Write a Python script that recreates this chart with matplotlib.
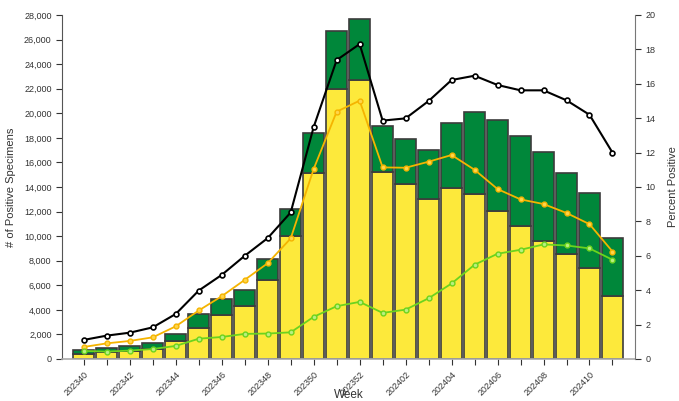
import matplotlib.pyplot as plt
import numpy as np

plt.rcParams['font.family'] = ['Liberation Sans', 'DejaVu Sans']

# data
weeks = ["202340", "202341", "202342", "202343", "202344", "202345", "202346",
         "202347", "202348", "202349", "202350", "202351", "202352",
         "202401", "202402", "202403", "202404", "202405", "202406",
         "202407", "202408", "202409", "202410", "202411"]
flu_a = [430, 600, 680, 810, 1460, 2540, 3600, 4300, 6460, 10030, 15100, 22000,
         22700, 15250, 14250, 13030, 13950, 13430, 12050, 10820, 9630, 8520,
         7380, 5100]
total_pos = [730, 920, 1050, 1270, 2030, 3650, 4860, 5650, 8160, 12200, 18400,
             26700, 27700, 18950, 17920, 17050, 19170, 20070, 19470, 18160,
             16830, 15170, 13520, 9850]
pct_total = [1.11, 1.36, 1.53, 1.84, 2.62, 3.98, 4.89, 6.0, 7.03, 8.52, 13.49,
             17.38, 18.31, 13.86, 13.99, 15.0, 16.22, 16.47, 15.93, 15.62,
             15.62, 15.04, 14.2, 12.0]
pct_a = [0.70, 0.91, 1.05, 1.26, 1.90, 2.82, 3.65, 4.60, 5.57, 7.01, 11.05,
         14.38, 15.02, 11.14, 11.12, 11.47, 11.86, 11.0, 9.88, 9.28, 9.01,
         8.49, 7.84, 6.25]
pct_b = [0.47, 0.43, 0.49, 0.58, 0.76, 1.18, 1.28, 1.46, 1.48, 1.55, 2.45,
         3.07, 3.32, 2.68, 2.87, 3.53, 4.39, 5.48, 6.12, 6.35, 6.66, 6.60,
         6.43, 5.77]

flu_b = [t - a for t, a in zip(total_pos, flu_a)]
x = np.arange(len(weeks))

fig = plt.figure(figsize=(6.79, 4.01), dpi=100)
ax = fig.add_axes([62 / 679, 1 - 359 / 401, 573 / 679, 344 / 401])

yellow = "#FDE93B"
green = "#00873A"
edge = "#3c3c3c"
ax.bar(x, flu_a, width=0.92, color=yellow, edgecolor=edge, lw=1.2, zorder=2)
ax.bar(x, flu_b, width=0.92, bottom=flu_a, color=green, edgecolor=edge,
       lw=1.2, zorder=2)

ax.set_xlim(-0.95, 23.98)
ax.set_ylim(0, 28000)
ax.set_yticks(np.arange(0, 28001, 2000))
ax.set_yticklabels([f"{v:,}" for v in range(0, 28001, 2000)])
ax.set_xticks(x)
ax.set_xticklabels([w if i % 2 == 0 else "" for i, w in enumerate(weeks)],
                   rotation=45, ha="right", rotation_mode="anchor")
ax.tick_params(axis="both", labelsize=6.5, colors="#333333", length=4,
               width=0.8)
ax.set_ylabel("# of Positive Specimens", fontsize=8, color="#333333",
              labelpad=6)
ax.set_xlabel("Week", fontsize=8.5, color="#333333")
ax.xaxis.set_label_coords(0.5, -0.088)
for s in ["top", "right"]:
    ax.spines[s].set_visible(False)
ax.spines["left"].set_color("#555555")
ax.spines["bottom"].set_color("#aaaaaa")
ax.spines["bottom"].set_linewidth(1.2)

ax2 = ax.twinx()
ax2.set_ylim(0, 20)
ax2.set_yticks(np.arange(0, 21, 2))
ax2.plot(x, pct_total, color="black", lw=1.5, marker="o", ms=3.5,
         mfc="white", mec="black", mew=1.2, zorder=4)
ax2.plot(x, pct_a, color="#F5B400", lw=1.3, marker="o", ms=3.5,
         mfc="#FFD54A", mec="#F5B400", mew=1.0, zorder=4)
ax2.plot(x, pct_b, color="#6CD31E", lw=1.3, marker="o", ms=3.5,
         mfc="#B8F080", mec="#6CD31E", mew=1.0, zorder=4)
ax2.tick_params(axis="y", labelsize=6.5, colors="#333333", length=4,
                width=0.8)
ax2.set_ylabel("Percent Positive", fontsize=8, color="#333333", labelpad=9)
for s in ["top", "left", "bottom"]:
    ax2.spines[s].set_visible(False)
ax2.spines["right"].set_color("#777777")

fig.savefig("out.png", dpi=100)
